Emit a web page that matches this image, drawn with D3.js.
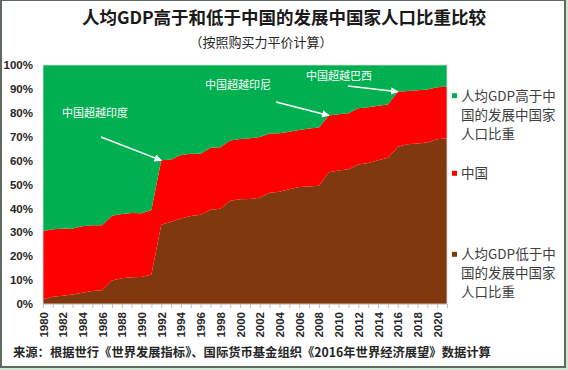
<!DOCTYPE html>
<html>
<head>
<meta charset="utf-8">
<script src="https://cdn.jsdelivr.net/npm/d3@7"></script>
<style>
  body { margin: 0; background: #fff; }
  svg { display: block; }
</style>
</head>
<body>
<svg width="568" height="370"></svg>
<script>
// Data (shares of developing-country population, %)
const years = d3.range(1980, 2022);
const lowerShare = [2.0, 3.0, 3.5, 4.0, 4.7, 5.4, 5.8, 9.8, 10.8, 11.2, 11.3, 12.3, 33.2, 34.4, 35.8, 36.8, 37.3, 39.4, 39.9, 43.2,
  43.8, 43.9, 44.5, 46.6, 47.0, 48.0, 49.0, 49.2, 49.5, 55.1, 55.9, 56.4, 58.4, 59.0, 60.1, 61.2, 65.8, 66.8, 67.2, 67.6, 68.9, 69.3];
const chinaShare = [28.5, 28.3, 28.0, 27.6, 27.8, 27.6, 27.2, 27.1, 26.9, 26.9, 26.7, 27.0, 26.9, 26.1, 26.5, 26.1, 25.6, 26.0, 25.7, 25.2,
  25.2, 25.4, 25.4, 24.7, 24.4, 24.1, 23.8, 24.2, 24.3, 23.8, 23.5, 23.4, 23.5, 23.3, 22.9, 22.3, 23.0, 22.3, 22.2, 22.1, 21.8, 21.6];
const higherShare = [69.5, 68.7, 68.5, 68.4, 67.5, 67.0, 67.0, 63.1, 62.3, 61.9, 62.0, 60.7, 39.9, 39.5, 37.7, 37.1, 37.1, 34.6, 34.4, 31.6,
  31.0, 30.7, 30.1, 28.7, 28.6, 27.9, 27.2, 26.6, 26.2, 21.1, 20.6, 20.2, 18.1, 17.7, 17.0, 16.5, 11.2, 10.9, 10.6, 10.3, 9.3, 9.1];
const yTicks = [0, 10, 20, 30, 40, 50, 60, 70, 80, 90, 100];
const seriesKeys = ["lower", "china", "higher"];
const seriesColors = { lower: "#80390e", china: "#ff0000", higher: "#00b050" };
const legendItems = [
  { key: "higher", lines: ["人均GDP高于中", "国的发展中国家", "人口比重"] },
  { key: "china", lines: ["中国"] },
  { key: "lower", lines: ["人均GDP低于中", "国的发展中国家", "人口比重"] }
];
const notes = [
  { text: "中国超越印度", year: 1992 },
  { text: "中国超越印尼", year: 2009 },
  { text: "中国超越巴西", year: 2016 }
];

const table = years.map((yr, i) => ({ year: yr, lower: lowerShare[i], china: chinaShare[i], higher: higherShare[i] }));

const svg = d3.select("svg");
const cjk = "'Noto Sans CJK SC', 'Noto Sans', sans-serif";

// frame
svg.append("rect").attr("width", 568).attr("height", 370).attr("fill", "#cfe8cf");
svg.append("rect").attr("x", 0).attr("y", 0).attr("width", 566).attr("height", 368).attr("fill", "#5f6b60");
svg.append("rect").attr("x", 2).attr("y", 1).attr("width", 562).attr("height", 365).attr("fill", "#fff");

const plot = { left: 43, right: 447, top: 65, bottom: 304 };

const x = d3.scaleLinear().domain([1980, 2021]).range([plot.left, plot.right]);
const y = d3.scaleLinear().domain([0, 100]).range([plot.bottom, plot.top]);

const stacked = d3.stack().keys(seriesKeys)(table);

const area = d3.area()
  .x(d => x(d.data.year))
  .y0(d => y(d[0]))
  .y1(d => y(d[1]));

svg.append("g").selectAll("path")
  .data(stacked)
  .join("path")
  .attr("fill", d => seriesColors[d.key])
  .attr("d", area);

// plot border
svg.append("rect")
  .attr("x", plot.left).attr("y", plot.top)
  .attr("width", plot.right - plot.left).attr("height", plot.bottom - plot.top)
  .attr("fill", "none").attr("stroke", "#d9d9d9").attr("stroke-width", 0.8);

// y axis
const yAxis = svg.append("g")
  .attr("transform", `translate(${plot.left},0)`)
  .call(d3.axisLeft(y).tickValues(yTicks).tickSize(0).tickPadding(10).tickFormat(d => d + "%"));
yAxis.select(".domain").remove();
yAxis.selectAll("text")
  .attr("font-family", "'Liberation Sans', Arial, sans-serif")
  .attr("font-weight", "bold").attr("font-size", 11.5).attr("fill", "#262626");

// x axis
const xAxis = svg.append("g")
  .attr("transform", `translate(0,${plot.bottom})`)
  .call(d3.axisBottom(x).tickValues(years).tickSize(4).tickFormat(d => d % 2 === 0 ? d : ""));
xAxis.select(".domain").attr("stroke", "#d9d9d9");
xAxis.selectAll(".tick line").attr("stroke", "#bfbfbf");
xAxis.selectAll("text")
  .attr("font-family", "'Liberation Sans', Arial, sans-serif")
  .attr("font-weight", "bold").attr("font-size", 11.5).attr("fill", "#262626")
  .attr("text-anchor", "end")
  .attr("transform", "rotate(-90)")
  .attr("x", -8).attr("y", 0).attr("dy", "0.35em");

// annotations
const defs = svg.append("defs");
defs.append("marker")
  .attr("id", "arrowhead").attr("viewBox", "0 0 10 10")
  .attr("refX", 9).attr("refY", 5)
  .attr("markerWidth", 5).attr("markerHeight", 5)
  .attr("orient", "auto")
  .append("path").attr("d", "M0,0L10,5L0,10Z").attr("fill", "#fff");

const noteLayout = [
  { tx: 95, ty: 117, ax: 101, ay: 137 },
  { tx: 238, ty: 89, ax: 276, ay: 102 },
  { tx: 339, ty: 80, ax: 348, ay: 86 }
];
notes.forEach((n, i) => {
  const L = noteLayout[i];
  const idx = years.indexOf(n.year);
  const px = x(n.year), py = y(lowerShare[idx] + chinaShare[idx]);
  svg.append("text")
    .attr("x", L.tx).attr("y", L.ty)
    .attr("text-anchor", "middle")
    .attr("font-family", cjk).attr("font-size", 11).attr("fill", "#fff")
    .text(n.text);
  svg.append("line")
    .attr("x1", L.ax).attr("y1", L.ay).attr("x2", px).attr("y2", py)
    .attr("stroke", "#fff").attr("stroke-width", 1.5)
    .attr("marker-end", "url(#arrowhead)");
});

// legend
const legendY = { higher: 95.7, china: 173.3, lower: 254.3 };
legendItems.forEach(item => {
  const g = svg.append("g");
  const y0 = legendY[item.key];
  g.append("rect")
    .attr("x", 452).attr("y", y0 - 2.5).attr("width", 5).attr("height", 5)
    .attr("fill", seriesColors[item.key]);
  item.lines.forEach((ln, j) => {
    g.append("text")
      .attr("x", 461).attr("y", y0 + j * 19).attr("dy", "0.36em")
      .attr("font-family", cjk).attr("font-size", 13.5).attr("fill", "#404040")
      .text(ln);
  });
});

// titles
svg.append("text")
  .attr("x", 284).attr("y", 24).attr("text-anchor", "middle")
  .attr("font-family", cjk).attr("font-weight", "bold").attr("font-size", 17.5).attr("fill", "#1a1a1a")
  .text("人均GDP高于和低于中国的发展中国家人口比重比较");
svg.append("text")
  .attr("x", 261).attr("y", 47).attr("text-anchor", "middle")
  .attr("font-family", cjk).attr("font-size", 13).attr("fill", "#262626")
  .text("（按照购买力平价计算）");

// source
svg.append("text")
  .attr("x", 13).attr("y", 357)
  .attr("font-family", cjk).attr("font-weight", "bold").attr("font-size", 12.3).attr("fill", "#262626")
  .text("来源：根据世行《世界发展指标》、国际货币基金组织《2016年世界经济展望》数据计算");
</script>
</body>
</html>
